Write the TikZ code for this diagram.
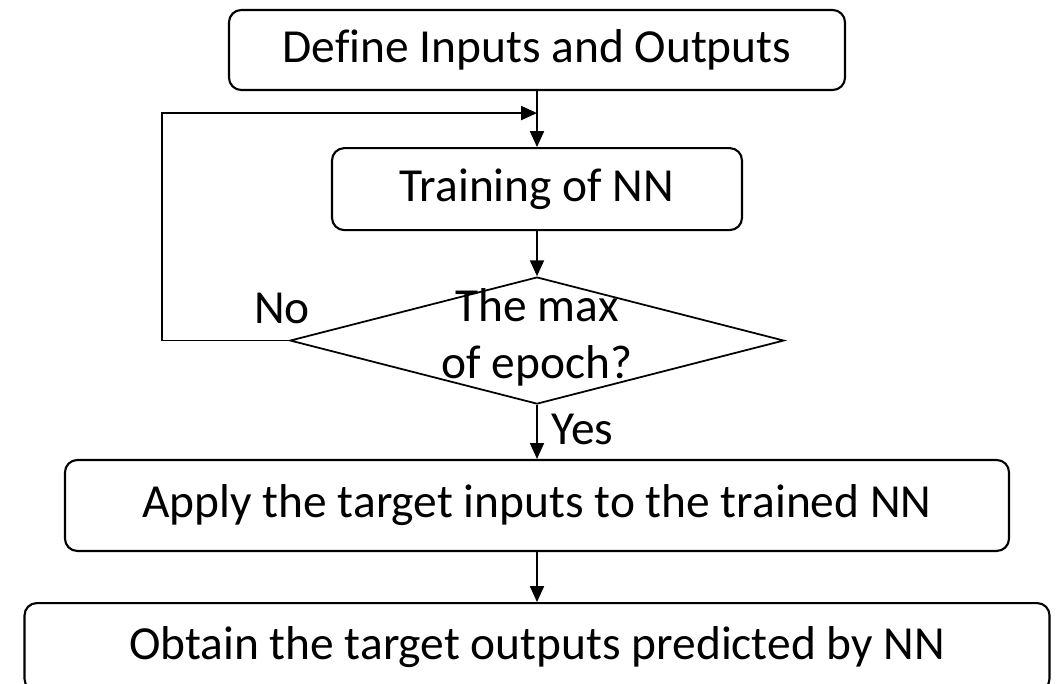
\documentclass[tikz,border=0pt]{standalone}
\usepackage{fontspec}
\setmainfont{Carlito}[Ligatures=NoCommon]
\usetikzlibrary{shapes.geometric, arrows.meta, positioning}

\begin{document}
\begin{tikzpicture}[
    font=\fontsize{27}{32.4}\selectfont,
    box/.style      = {rectangle, draw=black, line width=1.2pt, rounded corners=7pt,
                       inner sep=0pt, align=center},
    decision/.style = {diamond, draw=black, line width=1pt, inner sep=0pt,
                       minimum width=9.88cm, minimum height=2.54cm},
    arrow/.style    = {-{Triangle[length=9pt, width=8pt]}, line width=0.75pt}
]
\useasboundingbox (0,0) rectangle (21.12,-13.68);

%% -- Steps -------------------------------------------------
\node[box, minimum width=12.32cm, minimum height=1.60cm] at (10.74,-1.0) (define) {Define Inputs and Outputs};
\node[box, minimum width=8.20cm,  minimum height=1.64cm, below=1.12cm of define] (train)  {Training of NN};
\node[decision, below=0.9cm of train,
      label={[align=center, yshift=0.06cm]center:The max\\of epoch?}] (check) {};
\node[box, minimum width=18.88cm, minimum height=1.82cm, below=1.08cm of check] (apply)  {Apply the target inputs to the trained NN};
\node[box, minimum width=20.50cm, minimum height=1.76cm, below=1.0cm of apply]  (obtain) {Obtain the target outputs predicted by NN};

%% -- Loop points -------------------------------------------
\coordinate[below=0.44cm of define]     (join);
\coordinate[left=2.54cm of check.west] (loopcorner);

%% -- Arrows ------------------------------------------------
\draw[arrow] (define) -- (train);
\draw[arrow] (train) -- (check);
\draw[arrow] (check.west) -- node[pos=0, above, xshift=-0.14cm, yshift=0.2cm]{No} (loopcorner) |- (join);
\draw[arrow] (check) -- node[pos=0.74, anchor=base west, xshift=0.16cm]{Yes} (apply);
\draw[arrow] (apply) -- (obtain);

\end{tikzpicture}
\end{document}
